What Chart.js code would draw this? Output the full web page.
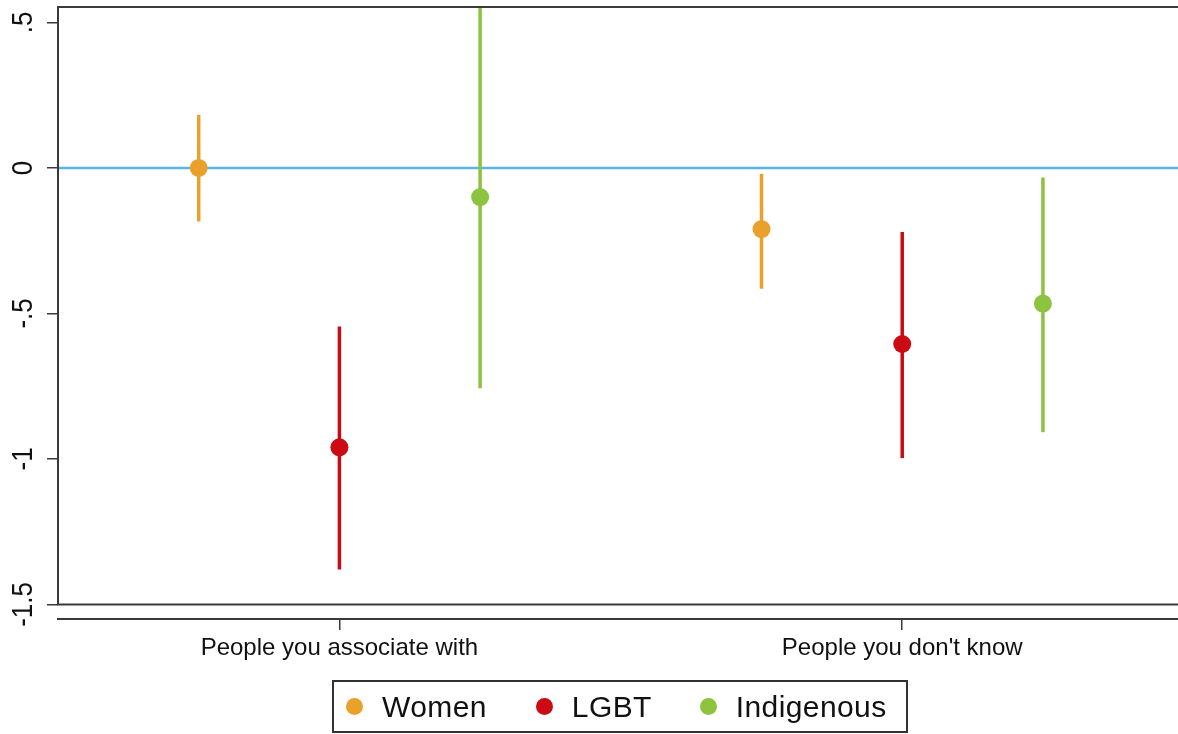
<!DOCTYPE html>
<html>
<head>
<meta charset="utf-8">
<script src="https://cdn.jsdelivr.net/npm/chart.js@4.4.1/dist/chart.umd.min.js"></script>
<style>
  html, body { margin:0; padding:0; background:#fff; }
  #wrap { position:relative; width:1178px; height:734px; }
  #legend {
    position:absolute; left:332px; top:680px; width:572px; height:49px;
    border:2px solid #333; display:flex; align-items:center;
    font-family:"Liberation Sans", Arial, sans-serif; font-size:30px; color:#111;
  }
  .dot { width:17px; height:17px; border-radius:50%; display:inline-block; flex-shrink:0; }
  .lab { white-space:nowrap; letter-spacing:0.4px; }
</style>
</head>
<body>
<div id="wrap">
  <canvas id="chart" width="1178" height="734"></canvas>
  <div id="legend"></div>
</div>
<script>
// ── données ─────────────────────────────────────────────
const groups     = ['People you associate with', "People you don't know"];
const seriesName = ['Women', 'LGBT', 'Indigenous'];
const seriesCol  = ['#E9A12B', '#CC0A14', '#8DC33F'];
const est = [
  [0.00, -0.21],    // Women
  [-0.96, -0.605],  // LGBT
  [-0.10, -0.466],  // Indigenous
];
const lo = [
  [-0.184, -0.415],
  [-1.38, -0.997],
  [-0.757, -0.908],
];
const hi = [
  [0.182, -0.02],
  [-0.545, -0.22],
  [0.56, -0.033],
];
const yTicks  = [0.5, 0, -0.5, -1, -1.5];
const yLabels = ['.5', '0', '-.5', '-1', '-1.5'];
const offsets = [-0.25, 0, 0.25];

const FONT = '"Liberation Sans", Arial, sans-serif';

const datasets = seriesName.map((name, s) => ({
  label: name,
  data: groups.map((g, i) => ({ x: i + 1 + offsets[s], y: est[s][i], lo: lo[s][i], hi: hi[s][i] })),
  backgroundColor: seriesCol[s],
  borderWidth: 0,
  pointRadius: 9,
  pointHoverRadius: 9,
}));

// ── plugin : cadre, ligne zéro, barres d'erreur, étiquettes Y ──
const decor = {
  id: 'decor',
  beforeDatasetsDraw(chart) {
    const { ctx, chartArea: a, scales: { x, y } } = chart;
    ctx.save();
    // ligne zéro
    ctx.strokeStyle = '#5AB4E6';
    ctx.lineWidth = 2.5;
    ctx.beginPath();
    ctx.moveTo(a.left, y.getPixelForValue(0));
    ctx.lineTo(a.right, y.getPixelForValue(0));
    ctx.stroke();
    // intervalles
    ctx.beginPath();
    ctx.rect(a.left, a.top, a.right - a.left, a.bottom - a.top);
    ctx.clip();
    ctx.lineWidth = 3.5;
    chart.data.datasets.forEach(ds => {
      ctx.strokeStyle = ds.backgroundColor;
      ds.data.forEach(p => {
        const px = x.getPixelForValue(p.x);
        ctx.beginPath();
        ctx.moveTo(px, y.getPixelForValue(p.lo));
        ctx.lineTo(px, y.getPixelForValue(p.hi));
        ctx.stroke();
      });
    });
    ctx.restore();
  },
  afterDraw(chart) {
    const { ctx, chartArea: a, scales: { y } } = chart;
    const yb = y.getPixelForValue(-1.5);
    ctx.save();
    ctx.strokeStyle = '#3a3a3a';
    ctx.lineWidth = 2;
    ctx.beginPath();
    ctx.moveTo(a.right, a.top); ctx.lineTo(a.left, a.top);
    ctx.lineTo(a.left, yb); ctx.lineTo(a.right, yb);
    ctx.stroke();
    // étiquettes Y tournées
    ctx.fillStyle = '#111';
    ctx.font = '26px ' + FONT;
    ctx.textAlign = 'center';
    ctx.textBaseline = 'middle';
    yTicks.forEach((v, i) => {
      ctx.save();
      ctx.translate(24, y.getPixelForValue(v));
      ctx.rotate(-Math.PI / 2);
      ctx.scale(1, 1.1);
      ctx.fillText(yLabels[i], 0, 0);
      ctx.restore();
    });
    ctx.restore();
  }
};

new Chart(document.getElementById('chart'), {
  type: 'scatter',
  data: { datasets },
  plugins: [decor],
  options: {
    responsive: false,
    animation: false,
    layout: { autoPadding: false, padding: { top: 7, right: 0, left: 0, bottom: 0 } },
    plugins: { legend: { display: false }, tooltip: { enabled: false } },
    scales: {
      x: {
        type: 'linear', min: 0.5, max: 2.49,
        afterBuildTicks: s => { s.ticks = groups.map((g, i) => ({ value: i + 1 })); },
        afterFit: s => { s.height = 115; s.paddingRight = 0; s.paddingLeft = 0; },
        grid: { drawOnChartArea: false, drawTicks: true, tickLength: 11, color: '#3a3a3a', lineWidth: 1.5 },
        border: { display: true, color: '#3a3a3a', width: 2 },
        ticks: {
          padding: 4, color: '#111', maxRotation: 0, autoSkip: false,
          font: { family: FONT, size: 24 },
          callback: v => groups[Math.round(v) - 1],
        },
      },
      y: {
        type: 'linear', min: -1.55, max: 0.553,
        afterBuildTicks: s => { s.ticks = yTicks.map(v => ({ value: v })); },
        afterFit: s => { s.width = 58; s.paddingTop = 0; s.paddingBottom = 0; },
        grid: { drawOnChartArea: false, drawTicks: true, tickLength: 11, color: '#3a3a3a', lineWidth: 1.5 },
        border: { display: false },
        ticks: { display: false },
      },
    },
  },
});

// ── légende ────────────────────────────────────────────
const leg = document.getElementById('legend');
const gaps = [12, 49, 48];
seriesName.forEach((n, s) => {
  const d = document.createElement('span');
  d.className = 'dot';
  d.style.background = seriesCol[s];
  d.style.marginLeft = gaps[s] + 'px';
  d.style.marginRight = '19px';
  const t = document.createElement('span');
  t.className = 'lab';
  t.textContent = n;
  leg.appendChild(d);
  leg.appendChild(t);
});
</script>
</body>
</html>
